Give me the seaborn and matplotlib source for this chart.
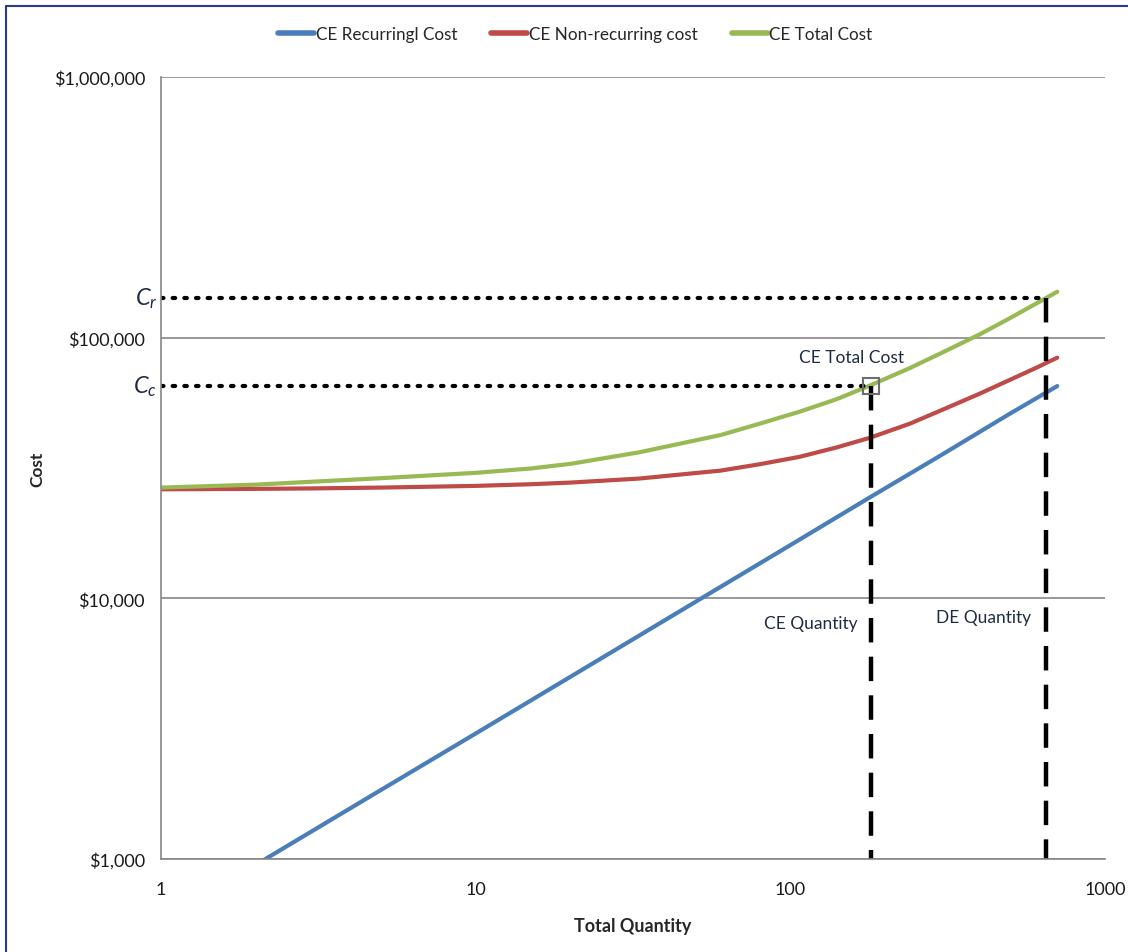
import numpy as np
import pandas as pd
import matplotlib
matplotlib.use("Agg")
import matplotlib.pyplot as plt
import matplotlib.ticker as mticker
from matplotlib.lines import Line2D
import seaborn as sns

sns.set_style("white")
plt.rcParams['font.family'] = ['Lato', 'DejaVu Sans']
plt.rcParams['mathtext.fontset'] = 'custom'
plt.rcParams['mathtext.it'] = 'Lato:italic'
plt.rcParams['mathtext.rm'] = 'Lato'

# values
qty_rec = [1, 2, 5, 10, 20, 50, 100, 179, 300, 500, 705]
cost_rec = [575, 950, 1840, 3030, 5000, 9700, 16000, 24400, 35300, 51200, 65200]

qty_tot = [1, 2, 3, 5, 10, 15, 20, 33, 60, 80, 107, 140, 179, 240, 300, 400, 500, 600, 705]
cost_nonrec = [26200, 26300, 26400, 26600, 27000, 27400, 27800, 28800, 30900, 32700, 34900,
               37900, 41300, 46800, 52500, 61000, 69000, 76300, 83800]
cost_total = [26600, 27300, 28000, 28900, 30300, 31500, 32800, 36300, 42300, 46800, 52000,
              58000, 65500, 76500, 87000, 103000, 119000, 134500, 150000]

ce_qty = 180
de_qty = 650
c_c = 65500
c_r = 142000

series_names = ["CE Recurringl Cost", "CE Non-recurring cost", "CE Total Cost"]
colors = ["#4a7ebb", "#be4b48", "#98b954"]

df = pd.concat([
    pd.DataFrame({"qty": qty_rec, "cost": cost_rec, "series": series_names[0]}),
    pd.DataFrame({"qty": qty_tot, "cost": cost_nonrec, "series": series_names[1]}),
    pd.DataFrame({"qty": qty_tot, "cost": cost_total, "series": series_names[2]}),
])

fig = plt.figure(figsize=(11.28, 9.53), dpi=100)
ax = fig.add_axes([161 / 1128, 1 - 860 / 953, (1105 - 161) / 1128, (860 - 78) / 953])

sns.lineplot(data=df, x="qty", y="cost", hue="series", palette=dict(zip(series_names, colors)),
             linewidth=3, ax=ax, legend=False, sort=False)

ax.set_xscale("log")
ax.set_yscale("log")
ax.set_xlim(1, 1000)
ax.set_ylim(1000, 1000000)

# reference lines
ax.plot([1, de_qty], [c_r, c_r], color="black", linestyle=(0, (0.6, 2.2)), linewidth=3,
        dash_capstyle="round")
ax.plot([1, ce_qty], [c_c, c_c], color="black", linestyle=(0, (0.6, 2.2)), linewidth=3,
        dash_capstyle="round")
ax.plot([ce_qty, ce_qty], [c_c, 1000], color="black", linestyle=(0, (5.5, 3.2)), linewidth=3.2)
ax.plot([de_qty, de_qty], [c_r, 1000], color="black", linestyle=(0, (5.5, 3.2)), linewidth=3.2)
ax.plot([ce_qty], [c_c], marker="s", markersize=11, markerfacecolor="none",
        markeredgecolor="#6d6d6d", markeredgewidth=1.5)

text_color = "#1f2a44"
ax.text(157, 84600, "CE Total Cost", ha="center", va="center", fontsize=12.5, color=text_color)
ax.text(164, 8020, "CE Quantity", ha="right", va="center", fontsize=12.5, color=text_color)
ax.text(582, 8450, "DE Quantity", ha="right", va="center", fontsize=12.5, color=text_color)
ax.text(-0.004, c_r, "$C_r$", transform=ax.get_yaxis_transform(), ha="right", va="center",
        fontsize=17, color=text_color)
ax.text(-0.004, c_c, "$C_c$", transform=ax.get_yaxis_transform(), ha="right", va="center",
        fontsize=17, color=text_color)

# axes styling
ax.yaxis.set_major_locator(mticker.FixedLocator([1000, 10000, 100000, 1000000]))
ax.yaxis.set_major_formatter(mticker.FuncFormatter(lambda v, p: "${:,.0f}".format(v)))
ax.yaxis.set_minor_locator(mticker.NullLocator())
ax.xaxis.set_major_locator(mticker.FixedLocator([1, 10, 100, 1000]))
ax.xaxis.set_major_formatter(mticker.FuncFormatter(lambda v, p: "{:.0f}".format(v)))
ax.xaxis.set_minor_locator(mticker.NullLocator())
ax.grid(axis="y", color="#868686", linewidth=1.2)
ax.set_axisbelow(True)
for s in ["top", "right"]:
    ax.spines[s].set_visible(False)
for s in ["left", "bottom"]:
    ax.spines[s].set_color("#868686")
    ax.spines[s].set_linewidth(1.2)
ax.tick_params(axis="both", direction="out", length=8, width=1.2, color="#868686",
               labelsize=13, labelcolor="#1a1a1a")
ax.tick_params(axis="x", pad=8)
ax.set_xlabel("Total Quantity", fontsize=13, fontweight="bold")
ax.set_ylabel("Cost", fontsize=12.5, fontweight="bold")
ax.xaxis.set_label_coords(0.5, -0.074)
ax.yaxis.set_label_coords(-0.123, 0.5)

handles = [Line2D([0], [0], color=c, linewidth=4) for c in colors]
fig.legend(handles, series_names, loc="center", bbox_to_anchor=(0.51, 1 - 35 / 953), ncol=3,
           frameon=False, fontsize=12.3, handlelength=2.1, handletextpad=0.1, columnspacing=2.0)

# frame lines from the original screenshot
fig.add_artist(Line2D([6 / 1128, 1], [1 - 7 / 953, 1 - 7 / 953], color="#2e3a87", linewidth=1.5))
fig.add_artist(Line2D([6 / 1128, 6 / 1128], [0, 1 - 7 / 953], color="#2e3a87", linewidth=1.5))

fig.savefig("out.png", dpi=100)
